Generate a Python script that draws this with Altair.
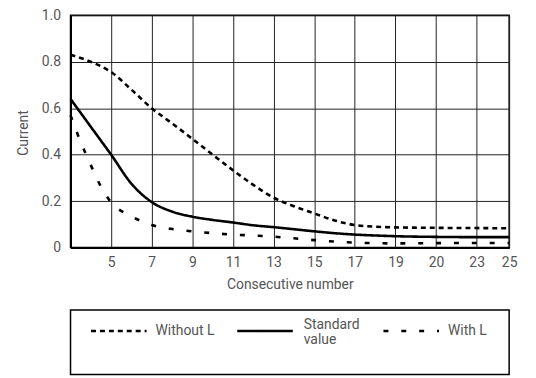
import altair as alt
import pandas as pd

# ---- data ----
series_names = ["Without L", "Standard value", "With L"]
legend_labels = ["Without L", "Standard\nvalue", "With L"]
dash_patterns = [[5, 4], [1, 0], [5, 13]]

x_without = [3, 4, 5, 6, 7, 8, 9, 10, 11, 12, 13, 14, 15, 16, 17, 18, 19, 21, 23, 24.6]
y_without = [0.83, 0.80, 0.756, 0.68, 0.60, 0.535, 0.468, 0.40, 0.333, 0.27, 0.215,
             0.178, 0.147, 0.117, 0.097, 0.09, 0.087, 0.085, 0.084, 0.083]

x_standard = [3, 4, 5, 6, 7, 8, 9, 10, 11, 12, 13, 14, 15, 16, 17, 18, 19, 21, 23, 24.6]
y_standard = [0.64, 0.52, 0.40, 0.275, 0.196, 0.155, 0.133, 0.119, 0.108, 0.096, 0.088,
              0.079, 0.07, 0.062, 0.056, 0.052, 0.049, 0.046, 0.045, 0.045]

x_with = [3, 3.5, 4, 4.5, 5, 6, 7, 8, 9, 10, 11, 12, 13, 14, 15, 16, 17, 18, 19, 21, 23, 24.6]
y_with = [0.57, 0.455, 0.355, 0.262, 0.195, 0.135, 0.097, 0.08, 0.07, 0.062, 0.056, 0.052,
          0.047, 0.04, 0.032, 0.026, 0.021, 0.019, 0.018, 0.019, 0.02, 0.02]

x_tick_pos = [5, 7, 9, 11, 13, 15, 17, 19, 21, 23, 24.6]
x_tick_labels = ["5", "7", "9", "11", "13", "15", "17", "19", "20", "23", "25"]
y_tick_pos = [0, 0.2, 0.4, 0.6, 0.8, 1.0]
y_tick_labels = ["0", "0.2", "0.4", "0.6", "0.8", "1.0"]

rows = []
for name, xs, ys in [(series_names[0], x_without, y_without),
                     (series_names[1], x_standard, y_standard),
                     (series_names[2], x_with, y_with)]:
    for xv, yv in zip(xs, ys):
        rows.append({"series": name, "x": xv, "y": yv})
df = pd.DataFrame(rows)
leg_df = pd.DataFrame({"series": series_names, "label": legend_labels,
                       "lines": [l.count("\n") + 1 for l in legend_labels]})


def label_expr(pos, labels):
    return ("[" + ",".join("'%s'" % l for l in labels) + "][indexof(["
            + ",".join(str(p) for p in pos) + "], datum.value)]")


FONT = "Roboto"
TEXT = "#555555"

dash_scale = alt.Scale(domain=series_names, range=dash_patterns)

lines = alt.Chart(df).mark_line(interpolate="monotone", color="black", strokeWidth=2.6).encode(
    x=alt.X("x:Q", scale=alt.Scale(domain=[3, 24.6], nice=False, zero=False),
            axis=alt.Axis(values=x_tick_pos, labelExpr=label_expr(x_tick_pos, x_tick_labels),
                          title="Consecutive number", grid=True, ticks=False, labelPadding=8,
                          labelFlush=False, labelOverlap=False, titleY=37, titleBaseline="middle")),
    y=alt.Y("y:Q", scale=alt.Scale(domain=[0, 1], nice=False),
            axis=alt.Axis(values=y_tick_pos, labelExpr=label_expr(y_tick_pos, y_tick_labels),
                          title="Current", grid=True, ticks=False, labelPadding=10,
                          labelOverlap=False, titleX=-47, titleY=118,
                          titleBaseline="middle", titleAlign="center")),
    strokeDash=alt.StrokeDash("series:N", sort=series_names, scale=dash_scale, legend=None),
).properties(width=442, height=234)

leg_x = alt.X("series:N", sort=series_names,
              scale=alt.Scale(type="point", domain=series_names, padding=0.5), axis=None)

symbols = alt.Chart(leg_df).mark_rule(strokeWidth=2.6, color="black", xOffset=-53, x2Offset=3).encode(
    x=leg_x, x2=alt.X2("series:N"), y=alt.value(21),
    strokeDash=alt.StrokeDash("series:N", sort=series_names, scale=dash_scale, legend=None),
)
texts_single = alt.Chart(leg_df).transform_filter("datum.lines == 1").mark_text(
    align="left", baseline="middle", dx=12, font=FONT, fontSize=14, color=TEXT
).encode(x=leg_x, y=alt.value(21), text="label:N")
texts_multi = alt.Chart(leg_df).transform_filter("datum.lines > 1").mark_text(
    align="left", baseline="middle", dx=14, dy=-6, lineBreak="\n", lineHeight=15,
    font=FONT, fontSize=14, color=TEXT
).encode(x=leg_x, y=alt.value(21), text="label:N")
legend_panel = alt.layer(symbols, texts_single, texts_multi).properties(width=442, height=65)

chart = alt.vconcat(lines, legend_panel, spacing=63, bounds="flush").resolve_scale(
    x="independent", y="independent", strokeDash="shared"
).configure_view(
    stroke="black", strokeWidth=1.5
).configure_axis(
    labelFont=FONT, labelFontSize=14, labelColor=TEXT,
    titleFont=FONT, titleFontSize=14, titleColor=TEXT, titleFontWeight="normal",
    domainColor="black", domainWidth=2, gridColor="#222222", gridWidth=1, gridOpacity=1,
).properties(
    padding={"left": 8, "top": -2, "right": 10, "bottom": 0}
)

chart.save("out.html", embed_options={"renderer": "svg", "actions": False})
